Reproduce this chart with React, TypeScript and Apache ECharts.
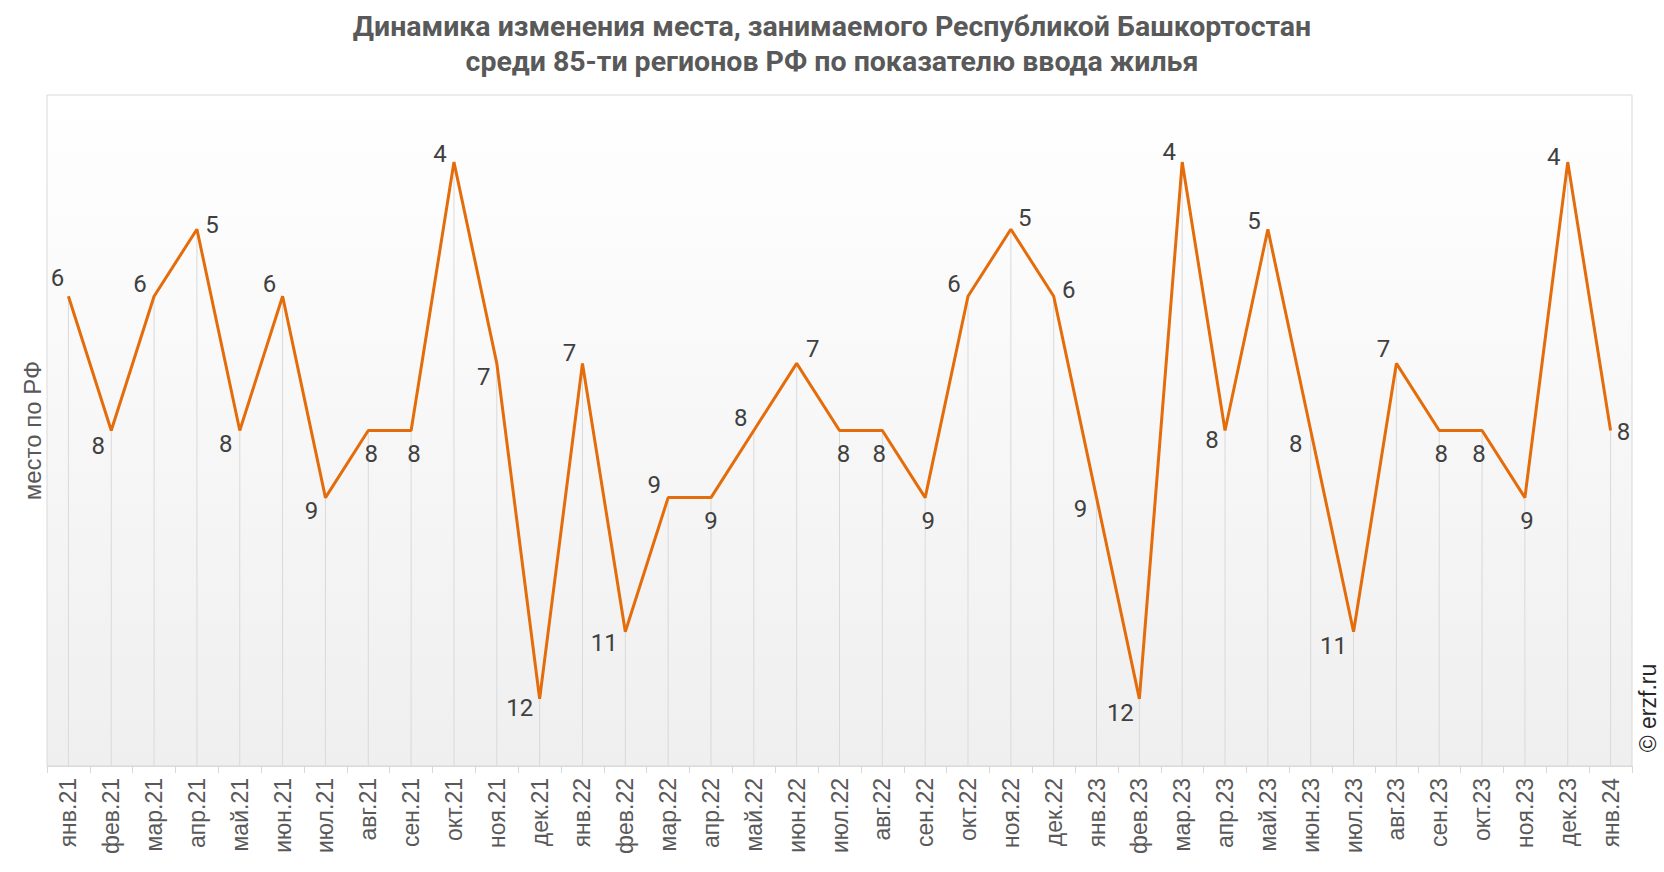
import React, { useEffect, useRef } from "react";
import * as echarts from "echarts";

const categories = [
  "янв.21", "фев.21", "мар.21", "апр.21", "май.21", "июн.21", "июл.21", "авг.21", "сен.21", "окт.21", "ноя.21", "дек.21",
  "янв.22", "фев.22", "мар.22", "апр.22", "май.22", "июн.22", "июл.22", "авг.22", "сен.22", "окт.22", "ноя.22", "дек.22",
  "янв.23", "фев.23", "мар.23", "апр.23", "май.23", "июн.23", "июл.23", "авг.23", "сен.23", "окт.23", "ноя.23", "дек.23",
  "янв.24",
];

const places = [
  6, 8, 6, 5, 8, 6, 9, 8, 8, 4, 7, 12,
  7, 11, 9, 9, 8, 7, 8, 8, 9, 6, 5, 6,
  9, 12, 4, 8, 5, 8, 11, 7, 8, 8, 9, 4,
  8,
];

// label offsets relative to the point [dx, dy]
const labelOffsets: [number, number][] = [
  [-11, -18], [-13, 15], [-14, -12], [15, -4], [-14, 13], [-13, -12], [-14, 13], [3, 23], [3, 23], [-14, -8], [-13, 14], [-20, 9],
  [-13, -10], [-21, 11], [-14, -13], [0, 23], [-13, -13], [16, -14], [4, 23], [-3, 23], [3, 23], [-14, -12], [14, -11], [15, -6],
  [-16, 11], [-19, 14], [-13, -10], [-13, 9], [-14, -8], [-15, 13], [-20, 14], [-13, -14], [2, 23], [-3, 23], [2, 23], [-14, -5],
  [13, 1],
];

const TITLE = "Динамика изменения места, занимаемого Республикой Башкортостан\nсреди 85-ти регионов РФ по показателю ввода жилья";
const Y_NAME = "место по РФ";
const COPYRIGHT = "© erzf.ru";
const Y_MIN = 3;
const Y_MAX = 13;

export default function App() {
  const ref = useRef<HTMLDivElement>(null);
  useEffect(() => {
    if (!ref.current) return;
    const chart = echarts.init(ref.current, null, { renderer: "svg" });
    const titleFont = "Roboto, 'Noto Sans', sans-serif";
    const axisFont = "'Liberation Sans', Arial, sans-serif";
    const labelFont = "'Liberation Sans Narrow', 'Arial Narrow', Roboto, sans-serif";
    chart.setOption({
      animation: false,
      backgroundColor: "#ffffff",
      title: {
        text: TITLE,
        left: "center",
        top: 4,
        textStyle: {
          fontFamily: titleFont,
          fontSize: 28.5,
          fontWeight: "bold",
          color: "#595959",
          lineHeight: 35,
        },
      },
      grid: {
        left: 47,
        right: 32,
        top: 95,
        bottom: 106,
        show: true,
        borderColor: "#d9d9d9",
        borderWidth: 1,
        backgroundColor: new echarts.graphic.LinearGradient(0, 0, 0, 1, [
          { offset: 0, color: "#ffffff" },
          { offset: 1, color: "#efefef" },
        ]),
      },
      xAxis: {
        type: "category",
        data: categories,
        boundaryGap: true,
        axisLine: { show: true, lineStyle: { color: "#d9d9d9", width: 1 } },
        axisTick: { show: true, alignWithLabel: false, length: 7, lineStyle: { color: "#d9d9d9" } },
        axisLabel: {
          rotate: 90,
          interval: 0,
          margin: 12,
          fontFamily: axisFont,
          fontSize: 23,
          color: "#595959",
        },
        splitLine: { show: false },
      },
      yAxis: {
        type: "value",
        inverse: true,
        min: Y_MIN,
        max: Y_MAX,
        axisLine: { show: false },
        axisTick: { show: false },
        axisLabel: { show: false },
        splitLine: { show: false },
        name: Y_NAME,
        nameLocation: "middle",
        nameGap: 3,
        nameTextStyle: { fontFamily: axisFont, fontSize: 24, color: "#595959" },
      },
      series: [
        {
          type: "custom",
          z: 1,
          silent: true,
          data: places.map((v, i) => [i, v]),
          renderItem: (params: any, api: any) => {
            const p1 = api.coord([api.value(0), api.value(1)]);
            const p2 = api.coord([api.value(0), Y_MAX]);
            return {
              type: "line",
              shape: { x1: p1[0], y1: p1[1], x2: p2[0], y2: p2[1] },
              style: { stroke: "#d9d9d9", lineWidth: 1 },
            };
          },
        },
        {
          type: "line",
          z: 3,
          data: places.map((v, i) => ({
            value: v,
            label: { offset: labelOffsets[i] },
          })),
          symbol: "circle",
          symbolSize: 2,
          showSymbol: true,
          itemStyle: { color: "rgba(0,0,0,0)", borderWidth: 0 },
          lineStyle: { color: "#e46c0a", width: 3 },
          label: {
            show: true,
            position: "inside",
            fontFamily: labelFont,
            fontSize: 24,
            color: "#404040",
          },
        },
      ],
      graphic: [
        {
          type: "text",
          x: 1648,
          y: 708,
          rotation: Math.PI / 2,
          style: {
            text: COPYRIGHT,
            fontFamily: axisFont,
            fontSize: 23,
            fill: "#262626",
            align: "center",
            verticalAlign: "middle",
          },
        },
      ],
    });
    return () => chart.dispose();
  }, []);
  return <div ref={ref} style={{ width: 1664, height: 872, position: "absolute", left: 0, top: 0 }} />;
}
